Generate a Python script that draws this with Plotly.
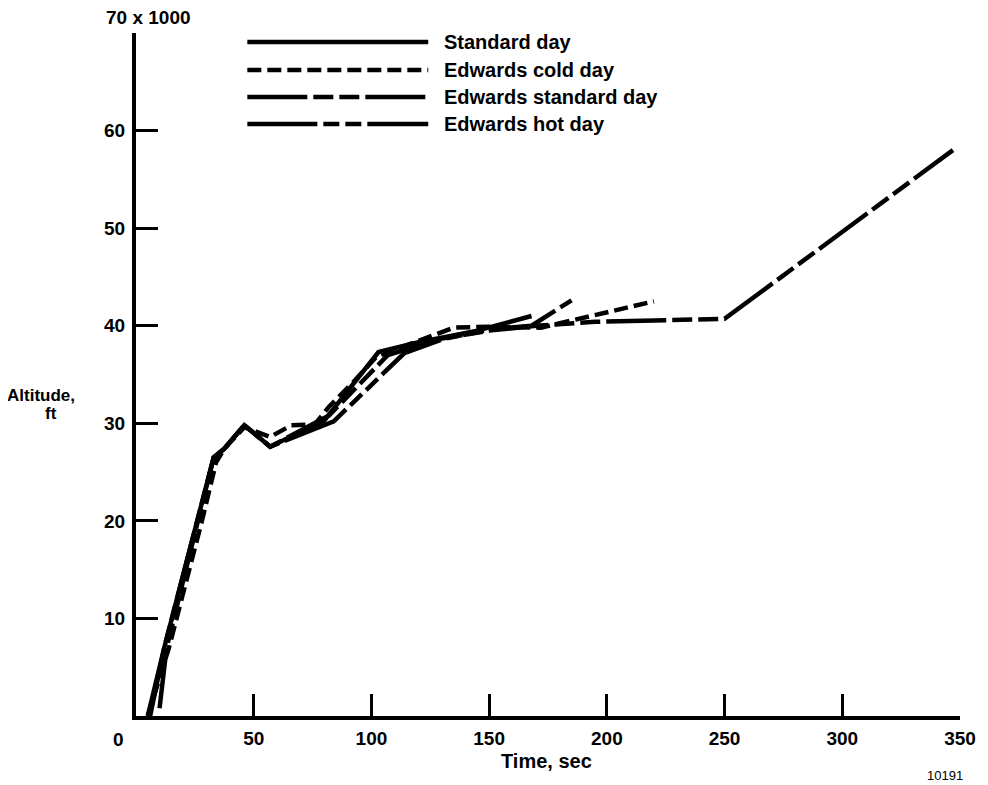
import plotly.graph_objects as go

# time (sec) and altitude (x 1000 ft)
std_t = [5, 12, 33, 37.5, 46, 57, 80, 103, 120, 145, 168]
std_alt = [0, 7, 26.5, 27.4, 29.8, 27.6, 30.3, 37.3, 38.3, 39.5, 41.0]

cold_t = [5, 14, 28, 34, 37.5, 46, 57, 66, 76, 82, 93, 102, 115, 135, 150, 172, 220]
cold_alt = [0, 7, 20, 26, 27.4, 29.6, 28.6, 29.8, 29.9, 31.7, 34.4, 36.8, 38.0, 39.8, 39.9, 39.8, 42.5]

edst_t = [10, 13, 33, 37.5, 46, 57, 82, 107, 128, 150, 170, 195, 250, 347]
edst_alt = [0.8, 7, 26.5, 27.4, 29.8, 27.6, 30.8, 37.0, 38.6, 39.5, 40.0, 40.4, 40.7, 58]

hot_t = [6, 12, 33, 37.5, 46, 57, 84, 114, 130, 150, 168, 185]
hot_alt = [0, 7, 26.5, 27.4, 29.8, 27.6, 30.2, 37.2, 38.6, 39.6, 40.0, 42.6]

x_ticks = [50, 100, 150, 200, 250, 300, 350]
y_ticks = [10, 20, 30, 40, 50, 60, 70]
y_text = ["10", "20", "30", "40", "50", "60", ""]

series = [
    ("Standard day", std_t, std_alt, "solid"),
    ("Edwards cold day", cold_t, cold_alt, "14px,6px"),
    ("Edwards standard day", edst_t, edst_alt, "60px,6px,20px,6px,20px,6px"),
    ("Edwards hot day", hot_t, hot_alt, "70px,6px,16px,6px,16px,6px"),
]

# the page body has an 8px margin, so the figure is drawn 8px smaller
# and everything is measured in screen pixels
OFF = 8
W, H = 988 - OFF, 785 - OFF
L, R, T, B = 136, 965, 33, 716  # plot area, screen pixels


def px(x):
    return (x - L) / (R - L)


def py(y):
    return (B - y) / (B - T)


FONT = "Liberation Sans, Arial, sans-serif"

fig = go.Figure()
for name, t, alt, dash in series:
    fig.add_trace(go.Scatter(x=t, y=alt, mode="lines", name=name,
                             line=dict(color="black", width=4.5, dash=dash)))

# hand-drawn style legend: long sample lines and bold labels
leg_y = [42, 70, 97, 124]
for (name, _, _, dash), yy in zip(series, leg_y):
    fig.add_shape(type="line", xref="paper", yref="paper",
                  x0=px(248), x1=px(430), y0=py(yy), y1=py(yy),
                  line=dict(color="black", width=4.5, dash=dash))
    fig.add_annotation(text=name, xref="paper", yref="paper", x=px(444), y=py(yy),
                       xanchor="left", yanchor="middle", showarrow=False,
                       font=dict(family=FONT, size=20, color="black", weight="bold"))

notes = [
    ("70 x 1000", px(149), py(18), 19, "bold"),
    ("Altitude,", px(40), py(395), 17, "bold"),
    ("ft", px(50), py(413), 17, "bold"),
    ("0", px(118), py(739), 19, "bold"),
    ("Time, sec", px(549), py(761), 20, "bold"),
    ("10191", px(950), py(775), 13, "normal"),
]
for text, x, y, size, weight in notes:
    fig.add_annotation(text=text, xref="paper", yref="paper", x=x, y=y,
                       xanchor="center", yanchor="middle", showarrow=False,
                       font=dict(family=FONT, size=size, color="black", weight=weight))

fig.update_xaxes(range=[0, 350], tickvals=x_ticks, showline=True, linewidth=4,
                 linecolor="black", ticks="inside", ticklen=22, tickwidth=3,
                 tickcolor="black", showgrid=False, zeroline=False,
                 ticklabelstandoff=2,
                 tickfont=dict(family=FONT, size=19, color="black", weight="bold"))
fig.update_yaxes(range=[0, 70], tickvals=y_ticks, ticktext=y_text, showline=True,
                 linewidth=4, linecolor="black", ticks="inside", ticklen=22,
                 tickwidth=3, tickcolor="black", showgrid=False, zeroline=False,
                 ticklabelstandoff=3,
                 tickfont=dict(family=FONT, size=19, color="black", weight="bold"))

fig.update_layout(width=W, height=H, showlegend=False,
                  plot_bgcolor="white", paper_bgcolor="white",
                  margin=dict(l=L - OFF, r=988 - R, t=T - OFF, b=785 - B))

fig.write_html("out.html")
